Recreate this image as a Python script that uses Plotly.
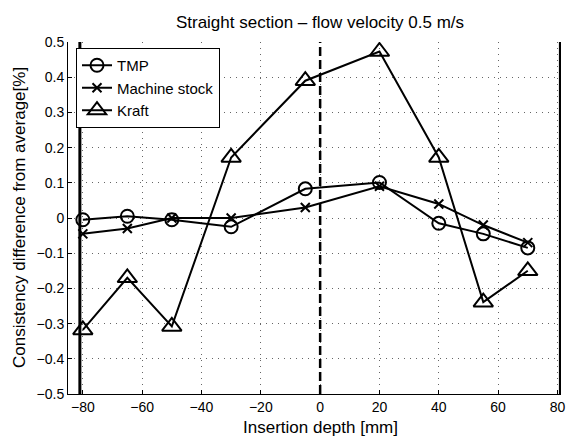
import plotly.graph_objects as go

depth = [-80, -65, -50, -30, -5, 20, 40, 55, 70]
tmp = [-0.005, 0.005, -0.005, -0.025, 0.083, 0.101, -0.015, -0.045, -0.085]
machine = [-0.045, -0.030, 0.000, 0.000, 0.030, 0.090, 0.040, -0.020, -0.070]
kraft = [-0.318, -0.170, -0.308, 0.172, 0.390, 0.473, 0.172, -0.239, -0.150]
wall_pos = [-81, 81]
center_pos = 0
xticks = [-80, -60, -40, -20, 0, 20, 40, 60, 80]
yticks = [-0.5, -0.4, -0.3, -0.2, -0.1, 0, 0.1, 0.2, 0.3, 0.4, 0.5]

font = "Liberation Sans, Arial, Helvetica, sans-serif"
W, H = 567, 437
ML, MR, MT, MB = 68, 6, 42, 43

fig = go.Figure()
series = [("TMP", tmp, "circle-open", 13), ("Machine stock", machine, "x-thin-open", 9),
          ("Kraft", kraft, "triangle-up-open", 17)]
for name, ys, sym, sz in series:
    fig.add_trace(go.Scatter(
        x=depth, y=ys, name=name, mode="lines+markers",
        line=dict(color="black", width=2),
        marker=dict(symbol=sym, size=sz, color="black", line=dict(color="black", width=2)),
    ))

for xw in wall_pos:
    fig.add_shape(type="line", xref="x", yref="paper", x0=xw, x1=xw, y0=0, y1=1,
                  line=dict(color="black", width=3))
fig.add_shape(type="line", xref="x", yref="paper", x0=center_pos, x1=center_pos, y0=0, y1=1,
              line=dict(color="black", width=2.5, dash="9px,4px"))

plot_h = H - MT - MB
plot_w = W - ML - MR
fig.add_annotation(text="Consistency difference from average[%]", xref="paper", yref="paper",
                   x=(19 - ML) / plot_w, y=0.5, xanchor="center", yanchor="middle",
                   textangle=-90, showarrow=False, font=dict(size=17))
fig.add_annotation(text="Insertion depth [mm]", xref="paper", yref="paper",
                   x=(320 - ML) / plot_w, y=-(427 - (H - MB)) / plot_h, xanchor="center",
                   yanchor="middle", showarrow=False, font=dict(size=17))

grid = dict(showgrid=True, gridcolor="#666666", griddash="1px,5px", gridwidth=1)

fig.update_layout(
    width=W, height=H,
    margin=dict(l=ML, r=MR, t=MT, b=MB, autoexpand=False),
    paper_bgcolor="white", plot_bgcolor="white",
    font=dict(family=font, size=14, color="black"),
    title=dict(text="Straight section \u2013 flow velocity 0.5 m/s", x=320 / W, xanchor="center",
               y=1 - 22 / H, yanchor="middle", font=dict(size=17)),
    showlegend=True,
    legend=dict(x=(76 - ML) / plot_w, y=1 - (48 - MT) / plot_h, xanchor="left", yanchor="top",
                bgcolor="white", bordercolor="black", borderwidth=1,
                font=dict(size=15), tracegroupgap=0, itemwidth=30),
    xaxis=dict(range=[-85, 81.2], tickvals=xticks, ticktext=[str(t).replace("-", "\u2212") for t in xticks],
               showline=True, linecolor="black", linewidth=1, ticks="inside", ticklen=4,
               tickcolor="black", zeroline=False, automargin=False, tickfont=dict(size=14), **grid),
    yaxis=dict(range=[-0.5, 0.5], tickvals=yticks,
               ticktext=[("%g" % t).replace("-", "\u2212") for t in yticks],
               showline=True, linecolor="black", linewidth=1, ticks="inside", ticklen=4,
               tickcolor="black", zeroline=False, automargin=False, tickfont=dict(size=14), **grid),
)

fig.write_html("out.html", config={"displayModeBar": False},
               post_script="document.body.style.margin='0';document.body.style.overflow='hidden';")
